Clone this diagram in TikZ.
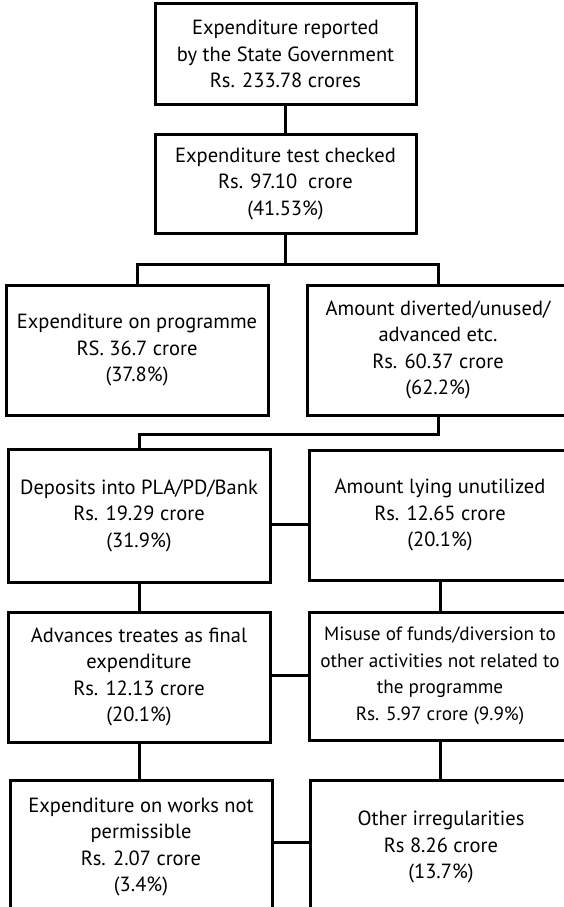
\documentclass[tikz,border=0pt]{standalone}
\usepackage{fontspec}
\setmainfont{PT Sans}
\begin{document}
\begin{tikzpicture}[x=1pt, y=-1pt,
  box/.style={draw, line width=3pt, align=center, inner sep=0pt,
    minimum width=262pt, minimum height=130pt,
    font=\fontsize{20.5}{26.5}\selectfont},
  link/.style={line width=3pt}]
\useasboundingbox (0,0) rectangle (564,907);
\clip (0,0) rectangle (564,907);

% top of the tree
\node[box, minimum width=261pt, minimum height=100pt] (rep) at (285.5,54)
  {Expenditure reported\\by the State Government\\Rs. 233.78 crores};
\node[box, minimum width=261pt, minimum height=99pt] (chk) at (285.5,183.5)
  {Expenditure test checked\\Rs. 97.10 \ crore\\(41.53\%)};

% first split
\node[box] (prog) at (137,350)
  {Expenditure on programme\\RS. 36.7 crore\\(37.8\%)};
\node[box] (div) at (438,350)
  {Amount diverted/unused/\\advanced etc.\\Rs. 60.37 crore\\(62.2\%)};

% breakdown of the diverted amount
\node[box, minimum height=133pt] (dep) at (139,515.5)
  {Deposits into PLA/PD/Bank\\Rs. 19.29 crore\\(31.9\%)};
\node[box] (unu) at (440,515)
  {Amount lying unutilized\\Rs. 12.65 crore\\(20.1\%)};
\node[box] (adv) at (139,677)
  {Advances treates as final\\expenditure\\Rs. 12.13 crore\\(20.1\%)};
\node[box, minimum height=128pt, font=\fontsize{19.2}{26.5}\selectfont] (mis) at (440,676)
  {Misuse of funds/diversion to\\other activities not related to\\the programme\\Rs. 5.97 crore (9.9\%)};
\node[box, minimum height=134pt] (wrk) at (141,847)
  {Expenditure on works not\\permissible\\Rs. 2.07 crore\\(3.4\%)};
\node[box, minimum height=134pt] (oth) at (441,847)
  {Other irregularities\\Rs 8.26 crore\\(13.7\%)};

% junction points
\coordinate (j1) at (285.5,264);
\coordinate (j2) at (438,434);
\coordinate (r4) at (0,524);
\coordinate (r5) at (0,675);
\coordinate (r6) at (0,842);

% connectors
\draw[link] (rep.south) -- (chk.north);
\draw[link] (chk.south) -- (j1);
\draw[link] (prog.north) |- (j1) -| (div.north);
\draw[link] (div.south) -- (j2) -| (dep.north);
\draw[link] (dep.south) -- (adv.north);
\draw[link] (unu.south) -- (mis.north);
\draw[link] (adv.south) -- (adv.south |- wrk.north);
\draw[link] (mis.south) -- (mis.south |- oth.north);
\draw[link] (dep.east |- r4) -- (unu.west |- r4);
\draw[link] (adv.east |- r5) -- (mis.west |- r5);
\draw[link] (wrk.east |- r6) -- (oth.west |- r6);
\end{tikzpicture}
\end{document}
